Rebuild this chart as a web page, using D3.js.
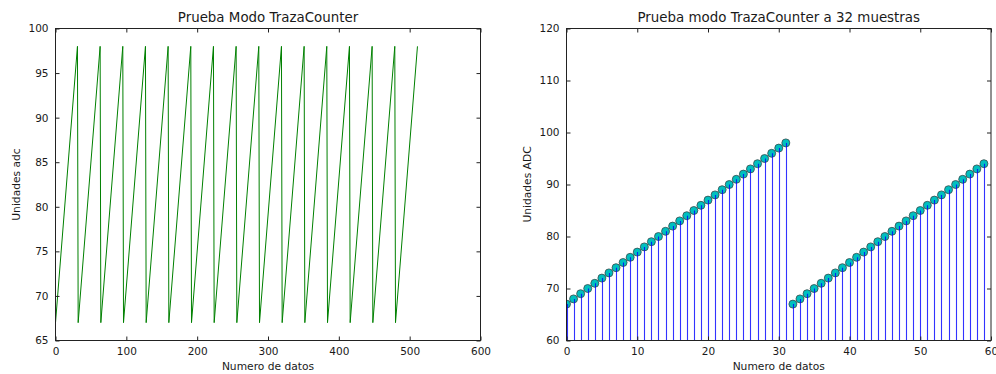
<!DOCTYPE html>
<html>
<head>
<meta charset="utf-8">
<script src="https://cdn.jsdelivr.net/npm/d3@7"></script>
<style>
body { margin: 0; background: #fff; }
text { font-family: "DejaVu Sans", sans-serif; fill: #1a1a1a; }
</style>
</head>
<body>
<div id="chart"></div>
<script>
var width = 996;
var height = 374;

// left: sawtooth vertices (sample index, value)
var sawX = [0, 31, 32, 63, 64, 95, 96, 127, 128, 159, 160, 191, 192, 223, 224, 255,
  256, 287, 288, 319, 320, 351, 352, 383, 384, 415, 416, 447, 448, 479, 480, 511];
var sawY = [67, 98, 67, 98, 67, 98, 67, 98, 67, 98, 67, 98, 67, 98, 67, 98,
  67, 98, 67, 98, 67, 98, 67, 98, 67, 98, 67, 98, 67, 98, 67, 98];
var leftXTicks = [0, 100, 200, 300, 400, 500, 600];
var leftYTicks = [65, 70, 75, 80, 85, 90, 95, 100];

// right: 60 samples in stem plot
var stemY = [67, 68, 69, 70, 71, 72, 73, 74, 75, 76, 77, 78, 79, 80, 81, 82,
  83, 84, 85, 86, 87, 88, 89, 90, 91, 92, 93, 94, 95, 96, 97, 98,
  67, 68, 69, 70, 71, 72, 73, 74, 75, 76, 77, 78, 79, 80, 81, 82,
  83, 84, 85, 86, 87, 88, 89, 90, 91, 92, 93, 94];
var rightXTicks = [0, 10, 20, 30, 40, 50, 60];
var rightYTicks = [60, 70, 80, 90, 100, 110, 120];

var svg = d3.select('#chart').append('svg').attr('width', width).attr('height', height);

function frame(g, x, y, xTicks, yTicks, title, xlab, ylab) {
  var x0 = x.range()[0], x1 = x.range()[1];
  var y0 = y.range()[0], y1 = y.range()[1];
  // ticks inside, on all four sides
  g.append('g').attr('transform', 'translate(0,' + y0 + ')')
    .call(d3.axisBottom(x).tickValues(xTicks).tickSizeInner(-4).tickSizeOuter(0).tickPadding(7));
  g.append('g').attr('transform', 'translate(0,' + y1 + ')')
    .call(d3.axisTop(x).tickValues(xTicks).tickSizeInner(-4).tickSizeOuter(0).tickFormat(''));
  g.append('g').attr('transform', 'translate(' + x0 + ',0)')
    .call(d3.axisLeft(y).tickValues(yTicks).tickSizeInner(-4).tickSizeOuter(0).tickPadding(7));
  g.append('g').attr('transform', 'translate(' + x1 + ',0)')
    .call(d3.axisRight(y).tickValues(yTicks).tickSizeInner(-4).tickSizeOuter(0).tickFormat(''));
  g.selectAll('.domain').remove();
  g.selectAll('.tick line').attr('stroke', '#222');
  g.selectAll('.tick text').attr('font-size', 10.5).attr('fill', '#1a1a1a')
    .style('font-family', '"DejaVu Sans", sans-serif');
  g.append('rect').attr('x', x0).attr('y', y1).attr('width', x1 - x0).attr('height', y0 - y1)
    .attr('fill', 'none').attr('stroke', '#222').attr('stroke-width', 1);
  g.append('text').attr('x', (x0 + x1) / 2).attr('y', 22).attr('text-anchor', 'middle')
    .attr('font-size', 13.4).text(title);
  g.append('text').attr('x', (x0 + x1) / 2).attr('y', 370).attr('text-anchor', 'middle')
    .attr('font-size', 10.7).text(xlab);
  g.append('text').attr('transform', 'translate(' + (x0 - 36) + ',' + ((y0 + y1) / 2) + ') rotate(-90)')
    .attr('text-anchor', 'middle').attr('font-size', 10.7).text(ylab);
}

// left chart
var xL = d3.scaleLinear().domain([0, 600]).range([55.5, 480.5]);
var yL = d3.scaleLinear().domain([65, 100]).range([340.5, 28.5]);
var gL = svg.append('g');
var line = d3.line().x(function(d) { return xL(d[0]); }).y(function(d) { return yL(d[1]); });
gL.append('path').datum(d3.zip(sawX, sawY)).attr('d', line)
  .attr('fill', 'none').attr('stroke', '#008000').attr('stroke-width', 1);
frame(gL, xL, yL, leftXTicks, leftYTicks, 'Prueba Modo TrazaCounter', 'Numero de datos', 'Unidades adc');

// right chart
var xR = d3.scaleLinear().domain([0, 60]).range([566.5, 991]);
var yR = d3.scaleLinear().domain([60, 120]).range([340.5, 28.5]);
var gR = svg.append('g');
var clip = gR.append('clipPath').attr('id', 'clipR');
clip.append('rect').attr('x', xR(0)).attr('y', yR(120)).attr('width', xR(60) - xR(0)).attr('height', yR(60) - yR(120));
var plot = gR.append('g').attr('clip-path', 'url(#clipR)');
plot.selectAll('circle').data(stemY).enter().append('circle')
  .attr('cx', function(d, i) { return xR(i); })
  .attr('cy', function(d) { return yR(d); })
  .attr('r', 4)
  .attr('fill', '#00bfbf').attr('stroke', '#3a4a4a').attr('stroke-width', 0.8);
plot.selectAll('line.stem').data(stemY).enter().append('line').attr('class', 'stem')
  .attr('x1', function(d, i) { return Math.round(xR(i)) + 0.5; })
  .attr('x2', function(d, i) { return Math.round(xR(i)) + 0.5; })
  .attr('y1', yR(60))
  .attr('y2', function(d) { return yR(d); })
  .attr('stroke', '#0000ff').attr('stroke-width', 1.1).attr('stroke-opacity', 0.8);
frame(gR, xR, yR, rightXTicks, rightYTicks, 'Prueba modo TrazaCounter a 32 muestras', 'Numero de datos', 'Unidades ADC');
</script>
</body>
</html>
